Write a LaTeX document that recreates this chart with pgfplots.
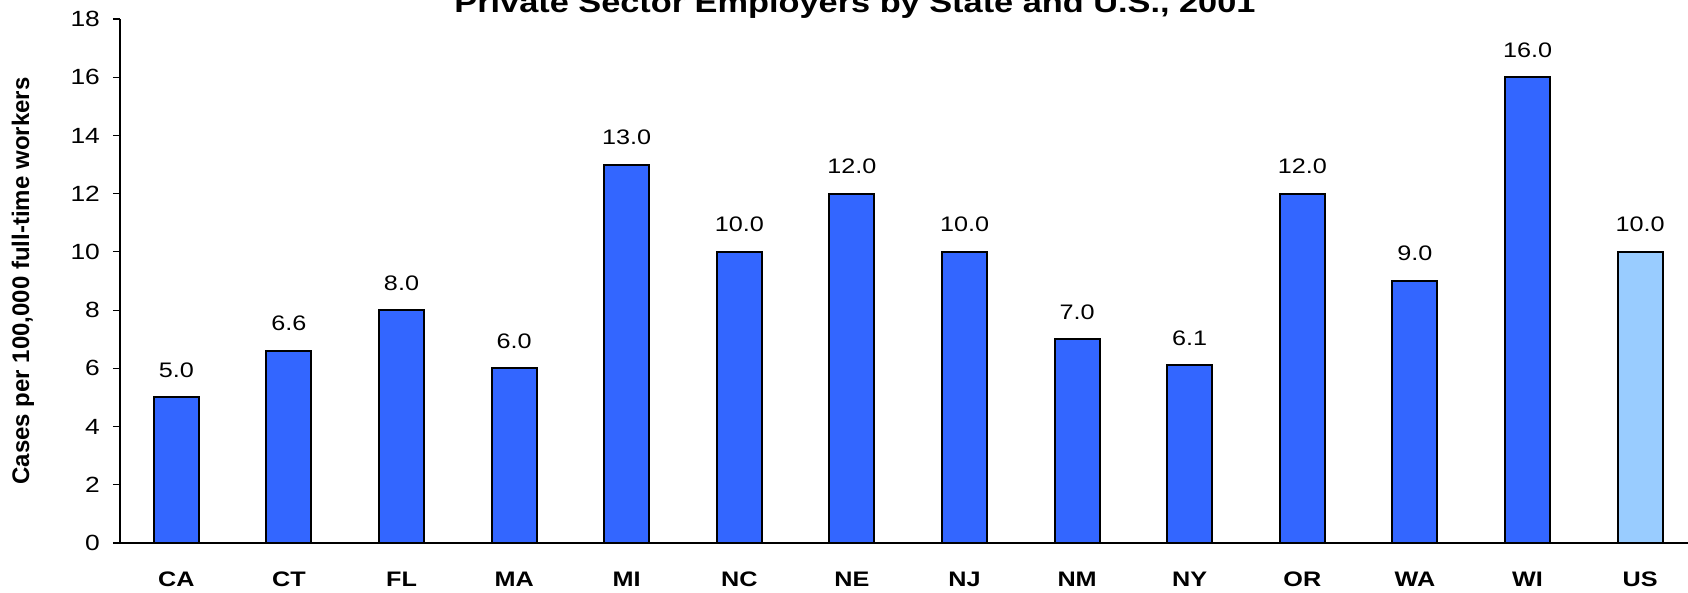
\documentclass[border=0pt]{standalone}
\usepackage{fontspec}
\setmainfont{Liberation Sans}[FakeStretch=1.2]
\newfontfamily\plainsans{Liberation Sans}
\usepackage{pgfplots}
\pgfplotsset{compat=1.18}
\definecolor{statebar}{HTML}{3366FF}
\definecolor{usbar}{HTML}{99CCFF}
\begin{document}
\begin{tikzpicture}
\begin{axis}[
    scale only axis,
    width=784pt, height=262pt,
    ybar, bar width=22.5pt,
    xmin=-0.5, xmax=13.425,
    ymin=0, ymax=18,
    ytick={0,2,...,18},
    xtick={0,...,13},
    xticklabels={CA,CT,FL,MA,MI,NC,NE,NJ,NM,NY,OR,WA,WI,US},
    axis x line*=bottom, axis y line*=left,
    axis line style={black, line width=0.6pt},
    x tick style={draw=none},
    y tick style={black, line width=0.6pt},
    tick align=outside, major tick length=3.5pt,
    /pgf/number format/assume math mode=true,
    yticklabel style={font=\fontsize{11}{13}\selectfont, xshift=-3pt},
    xticklabel style={font=\fontsize{10.5}{12}\selectfont\bfseries, anchor=base, yshift=-18.5pt},
    ylabel={Cases per 100,000 full-time workers},
    ylabel style={font=\plainsans\fontsize{12}{14}\selectfont\bfseries,
        at={(axis description cs:-0.0619,0.5)}, anchor=center},
    nodes near coords,
    nodes near coords style={font=\fontsize{10.5}{12}\selectfont, anchor=base, inner sep=0pt, yshift=10pt,
        /pgf/number format/.cd, fixed, fixed zerofill, precision=1, assume math mode=true},
]
\addplot[bar shift=0pt, fill=statebar, draw=black, line width=1pt] coordinates {
    (0,5.0) (1,6.6) (2,8.0) (3,6.0) (4,13.0) (5,10.0) (6,12.0)
    (7,10.0) (8,7.0) (9,6.1) (10,12.0) (11,9.0) (12,16.0)
};
\addplot[bar shift=0pt, fill=usbar, draw=black, line width=1pt] coordinates {
    (13,10.0)
};
\end{axis}
\node[anchor=base, font=\fontsize{14.3}{16}\selectfont\bfseries] at (367.5pt,265.25pt)
    {Private Sector Employers by State and U.S., 2001};
\pgfresetboundingbox
\useasboundingbox (-60pt,-25pt) rectangle (784pt,271.5pt);
\end{tikzpicture}
\end{document}
